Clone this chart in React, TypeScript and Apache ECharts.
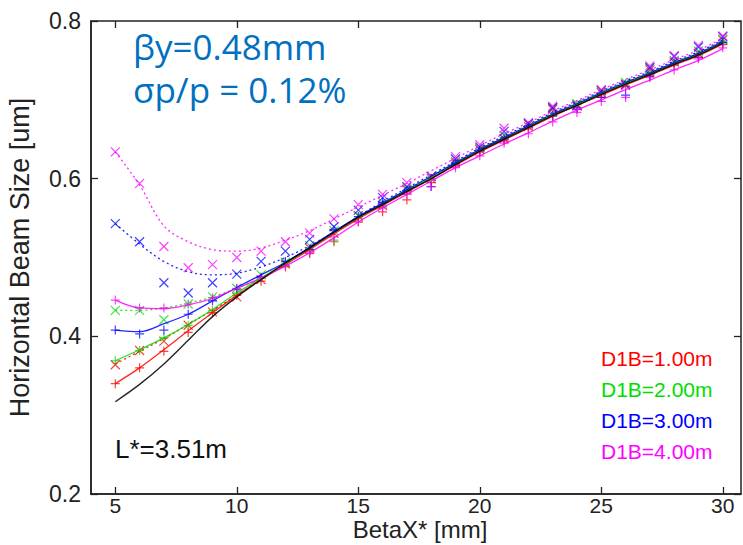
import React, { useEffect, useRef } from "react";
import * as echarts from "echarts";

const betaX = [5, 6, 7, 8, 9, 10, 11, 12, 13, 14, 15, 16, 17, 18, 19, 20, 21, 22, 23, 24, 25, 26, 27, 28, 29, 30];
const xTicks = [5, 10, 15, 20, 25, 30];

// fitted curves
const refLine = [0.317, 0.339, 0.365, 0.395, 0.425, 0.450, 0.472, 0.493, 0.512, 0.532, 0.551, 0.567, 0.584, 0.600, 0.618, 0.635, 0.650, 0.665, 0.680, 0.693, 0.707, 0.720, 0.732, 0.745, 0.757, 0.772];
const red1 = [0.340, 0.360, 0.383, 0.407, 0.430, 0.452, 0.472, 0.491, 0.510, 0.530, 0.549, 0.566, 0.583, 0.600, 0.617, 0.634, 0.649, 0.664, 0.679, 0.693, 0.706, 0.719, 0.731, 0.744, 0.756, 0.771];
const red2 = [0.365, 0.381, 0.397, 0.415, 0.433, 0.452, 0.473, 0.493, 0.512, 0.532, 0.551, 0.568, 0.585, 0.602, 0.620, 0.637, 0.652, 0.667, 0.682, 0.695, 0.709, 0.722, 0.734, 0.747, 0.759, 0.774];
const green1 = [0.369, 0.383, 0.398, 0.415, 0.434, 0.455, 0.474, 0.493, 0.512, 0.532, 0.551, 0.568, 0.585, 0.601, 0.619, 0.636, 0.651, 0.666, 0.681, 0.694, 0.708, 0.721, 0.733, 0.746, 0.758, 0.773];
const green2 = [0.433, 0.433, 0.436, 0.442, 0.450, 0.461, 0.474, 0.492, 0.512, 0.532, 0.552, 0.569, 0.586, 0.603, 0.621, 0.638, 0.653, 0.668, 0.683, 0.696, 0.710, 0.723, 0.735, 0.748, 0.760, 0.775];
const blue1 = [0.408, 0.406, 0.416, 0.428, 0.445, 0.462, 0.478, 0.494, 0.513, 0.533, 0.552, 0.569, 0.586, 0.603, 0.620, 0.637, 0.652, 0.667, 0.682, 0.695, 0.709, 0.722, 0.734, 0.747, 0.759, 0.774];
const blue2 = [0.543, 0.517, 0.495, 0.482, 0.478, 0.480, 0.488, 0.500, 0.515, 0.532, 0.552, 0.571, 0.588, 0.605, 0.622, 0.639, 0.654, 0.669, 0.684, 0.697, 0.711, 0.724, 0.736, 0.749, 0.761, 0.776];
const magenta1 = [0.446, 0.436, 0.435, 0.440, 0.448, 0.461, 0.474, 0.489, 0.506, 0.525, 0.545, 0.563, 0.580, 0.597, 0.614, 0.629, 0.644, 0.658, 0.673, 0.687, 0.700, 0.713, 0.725, 0.738, 0.750, 0.765];
const magenta2 = [0.634, 0.592, 0.540, 0.520, 0.510, 0.508, 0.512, 0.522, 0.534, 0.549, 0.564, 0.579, 0.594, 0.610, 0.626, 0.642, 0.657, 0.671, 0.686, 0.699, 0.713, 0.726, 0.738, 0.751, 0.763, 0.778];

// simulated points
const redPlus = [0.340, 0.360, 0.381, 0.405, 0.430, 0.452, 0.470, 0.488, 0.505, 0.520, 0.545, 0.558, 0.573, 0.595, 0.617, 0.634, 0.648, 0.663, 0.680, 0.690, 0.703, 0.717, 0.730, 0.744, 0.754, 0.770];
const redCross = [0.364, 0.382, 0.394, 0.414, 0.431, 0.450, 0.472, 0.492, 0.512, 0.531, 0.553, 0.566, 0.586, 0.600, 0.620, 0.637, 0.651, 0.666, 0.688, 0.694, 0.709, 0.720, 0.738, 0.748, 0.759, 0.776];
const greenPlus = [0.369, 0.382, 0.398, 0.414, 0.433, 0.455, 0.474, 0.493, 0.508, 0.522, 0.550, 0.566, 0.584, 0.600, 0.618, 0.636, 0.652, 0.666, 0.679, 0.694, 0.708, 0.721, 0.733, 0.745, 0.757, 0.772];
const greenCross = [0.433, 0.433, 0.421, 0.441, 0.450, 0.461, 0.478, 0.494, 0.515, 0.534, 0.553, 0.570, 0.588, 0.603, 0.622, 0.638, 0.655, 0.669, 0.690, 0.695, 0.711, 0.722, 0.740, 0.750, 0.762, 0.777];
const bluePlus = [0.408, 0.403, 0.408, 0.428, 0.445, 0.460, 0.475, 0.495, 0.510, 0.535, 0.552, 0.570, 0.585, 0.590, 0.619, 0.636, 0.650, 0.667, 0.680, 0.688, 0.703, 0.706, 0.730, 0.747, 0.754, 0.773];
const blueCross = [0.543, 0.520, 0.468, 0.455, 0.468, 0.479, 0.495, 0.508, 0.523, 0.539, 0.560, 0.576, 0.590, 0.603, 0.625, 0.640, 0.660, 0.670, 0.690, 0.693, 0.712, 0.719, 0.741, 0.755, 0.767, 0.780];
const magentaPlus = [0.446, 0.436, 0.436, 0.441, 0.449, 0.461, 0.475, 0.490, 0.506, 0.526, 0.546, 0.563, 0.580, 0.590, 0.614, 0.629, 0.645, 0.657, 0.672, 0.684, 0.698, 0.703, 0.728, 0.738, 0.752, 0.766];
const magentaCross = [0.634, 0.594, 0.514, 0.487, 0.491, 0.500, 0.508, 0.520, 0.531, 0.549, 0.567, 0.580, 0.595, 0.603, 0.628, 0.643, 0.664, 0.671, 0.692, 0.692, 0.713, 0.718, 0.743, 0.756, 0.769, 0.781];

const legendLabels = ["D1B=1.00m", "D1B=2.00m", "D1B=3.00m", "D1B=4.00m"];
const COLORS = ["#ff0000", "#00dd00", "#0000ff", "#ff00ff"];

const PLUS = "path://M0,5L10,5M5,0L5,10";
const CROSS = "path://M0,0L10,10M10,0L0,10";
const FONT = "'Liberation Sans', Arial, Helvetica, sans-serif";

function pts(ys: number[]) {
  return betaX.map((x, i) => [x, ys[i]]);
}

function lineSeries(ys: number[], color: string, dotted: boolean, width = 1.3) {
  return {
    type: "line",
    data: pts(ys),
    showSymbol: false,
    smooth: 0.35,
    silent: true,
    lineStyle: { color, width, type: dotted ? [2, 3] : "solid", opacity: 0.85 },
  };
}

function markSeries(ys: number[], color: string, symbol: string) {
  return {
    type: "scatter",
    data: pts(ys),
    symbol,
    symbolSize: 9,
    silent: true,
    itemStyle: { color: "none", borderColor: color, borderWidth: 1.2, opacity: 0.75 },
  };
}

export default function App() {
  const ref = useRef<HTMLDivElement>(null);
  useEffect(() => {
    const chart = echarts.init(ref.current!, null, { renderer: "svg" });
    const solid = [red1, green1, blue1, magenta1];
    const dotted = [red2, green2, blue2, magenta2];
    const plus = [redPlus, greenPlus, bluePlus, magentaPlus];
    const cross = [redCross, greenCross, blueCross, magentaCross];
    const series: any[] = [];
    for (let k = 0; k < 4; k++) {
      series.push(lineSeries(solid[k], COLORS[k], false));
      series.push(lineSeries(dotted[k], COLORS[k], true));
      series.push(markSeries(plus[k], COLORS[k], PLUS));
      series.push(markSeries(cross[k], COLORS[k], CROSS));
    }
    series.push(lineSeries(refLine, "#000000", false, 1.4));

    const tickStyle = { show: true, inside: true, length: 7, lineStyle: { color: "#222", width: 1.3 } };
    const option: any = {
      animation: false,
      backgroundColor: "#ffffff",
      grid: {
        left: 91, right: 2, top: 21, bottom: 51,
        containLabel: false, outerBoundsMode: "none",
        show: true, borderColor: "#222", borderWidth: 1.5, backgroundColor: "transparent",
      },
      xAxis: [
        {
          type: "value",
          min: 4,
          max: 30.75,
          axisLine: { show: true, lineStyle: { color: "#222", width: 1.5 } },
          axisTick: { ...tickStyle, customValues: xTicks },
          axisLabel: { customValues: xTicks, fontFamily: FONT, fontSize: 21, color: "#222", margin: 1, lineHeight: 21 },
          splitLine: { show: false },
        },
        {
          type: "value",
          position: "top",
          min: 4,
          max: 30.75,
          axisLine: { show: false },
          axisTick: { ...tickStyle, customValues: xTicks },
          axisLabel: { show: false },
          splitLine: { show: false },
        },
      ],
      yAxis: [
        {
          type: "value",
          min: 0.2,
          max: 0.8,
          interval: 0.2,
          name: "Horizontal Beam Size [um]",
          nameLocation: "middle",
          nameGap: 58,
          nameTextStyle: { fontFamily: FONT, fontSize: 27, color: "#222" },
          axisLine: { show: true, lineStyle: { color: "#222", width: 1.5 } },
          axisTick: tickStyle,
          axisLabel: { fontFamily: FONT, fontSize: 23, color: "#222", margin: 10, formatter: (v: number) => v.toFixed(1) },
          splitLine: { show: false },
        },
        {
          type: "value",
          position: "right",
          min: 0.2,
          max: 0.8,
          interval: 0.2,
          axisLine: { show: false },
          axisTick: tickStyle,
          axisLabel: { show: false },
          splitLine: { show: false },
        },
      ],
      series,
      graphic: [
        {
          type: "text",
          x: 420,
          y: 529,
          style: { text: "BetaX* [mm]", font: `24px ${FONT}`, fill: "#222", textAlign: "center", textVerticalAlign: "middle" },
        },
        { type: "text", left: 133, top: 29, style: { text: "βy=0.48mm", font: "35px 'Open Sans', sans-serif", fill: "#0070c0" } },
        { type: "text", left: 133, top: 72, style: { text: "σp/p = 0.12%", font: "35px 'Open Sans', sans-serif", fill: "#0070c0" } },
        { type: "text", left: 115, top: 436, style: { text: "L*=3.51m", font: `26px ${FONT}`, fill: "#111" } },
        ...legendLabels.map((t, k) => ({
          type: "text",
          left: 601,
          top: 348 + k * 31,
          style: { text: t, font: `21px ${FONT}`, fill: COLORS[k] },
        })),
      ],
    };
    chart.setOption(option);
    return () => chart.dispose();
  }, []);
  return <div ref={ref} style={{ position: "fixed", left: 0, top: 0, width: 743, height: 545, background: "#fff" }} />;
}
